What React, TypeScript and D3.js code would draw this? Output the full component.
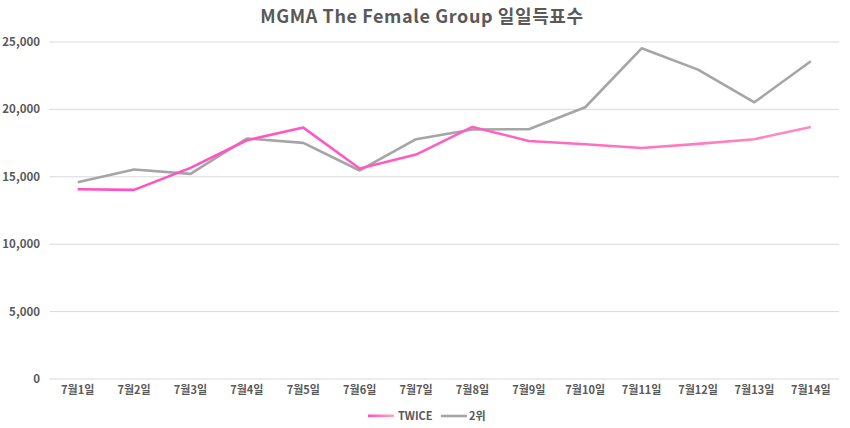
import React from "react";
import * as d3 from "d3";

const categories = ["7월1일","7월2일","7월3일","7월4일","7월5일","7월6일","7월7일","7월8일","7월9일","7월10일","7월11일","7월12일","7월13일","7월14일"];
const twice = [14080,14030,15660,17710,18650,15620,16650,18700,17660,17420,17140,17440,17790,18700];
const second = [14600,15540,15220,17840,17520,15470,17790,18510,18530,20160,24530,22950,20530,23570];
const yTicks = [0,5000,10000,15000,20000,25000];
const title = "MGMA The Female Group 일일득표수";
const seriesNames = ["TWICE","2위"];

const W = 850, H = 428;
const left = 49.5, right = 839, top = 42, bottom = 379;
const font = "'Noto Sans CJK KR', 'Noto Sans', sans-serif";

export default function App() {
  const x = d3.scaleBand<string>().domain(categories).range([left, right]);
  const y = d3.scaleLinear().domain([0, 25000]).range([bottom, top]);
  const cx = (c: string) => (x(c) as number) + x.bandwidth() / 2;
  const line = d3.line<number>().x((_, i) => cx(categories[i])).y(d => y(d));
  return (
    <svg width={W} height={H} style={{ position: "absolute", left: 0, top: 0, background: "#fff" }}>
      <defs>
        <linearGradient id="pinkGrad" gradientUnits="userSpaceOnUse" x1={left} x2={right} y1={0} y2={0}>
          <stop offset="0" stopColor="#ff4ec4" />
          <stop offset="0.55" stopColor="#ff5fc2" />
          <stop offset="1" stopColor="#ff8fbf" />
        </linearGradient>
        <linearGradient id="legGrad" x1="0" x2="1" y1="0" y2="0">
          <stop offset="0" stopColor="#ff4ec4" />
          <stop offset="1" stopColor="#ffa9b0" />
        </linearGradient>
      </defs>
      <text x={422} y={23} textAnchor="middle" fontFamily={font} fontWeight={700} fontSize={18} letterSpacing={0.6} fill="#595959">{title}</text>
      {yTicks.map(t => (
        <g key={t}>
          <line x1={left} x2={right} y1={y(t)} y2={y(t)} stroke="#d9d9d9" strokeWidth={1} />
          <text x={40} y={y(t) + 4} textAnchor="end" fontFamily={font} fontWeight={700} fontSize={11.5} fill="#595959">{d3.format(",")(t)}</text>
        </g>
      ))}
      {categories.map(c => (
        <text key={c} x={cx(c)} y={394} textAnchor="middle" fontFamily={font} fontWeight={700} fontSize={11} fill="#595959">{c}</text>
      ))}
      <path d={line(second) as string} fill="none" stroke="#a5a5a5" strokeWidth={2.6} strokeLinejoin="round" />
      <path d={line(twice) as string} fill="none" stroke="url(#pinkGrad)" strokeWidth={2.6} strokeLinejoin="round" />
      <g>
        <rect x={368} y={414.5} width={26} height={2.6} fill="url(#legGrad)" />
        <text x={398} y={420} fontFamily={font} fontWeight={700} fontSize={11} fill="#595959">{seriesNames[0]}</text>
        <line x1={441} x2={467} y1={416} y2={416} stroke="#a5a5a5" strokeWidth={2.6} />
        <text x={469} y={420} fontFamily={font} fontWeight={700} fontSize={11} fill="#595959">{seriesNames[1]}</text>
      </g>
    </svg>
  );
}
